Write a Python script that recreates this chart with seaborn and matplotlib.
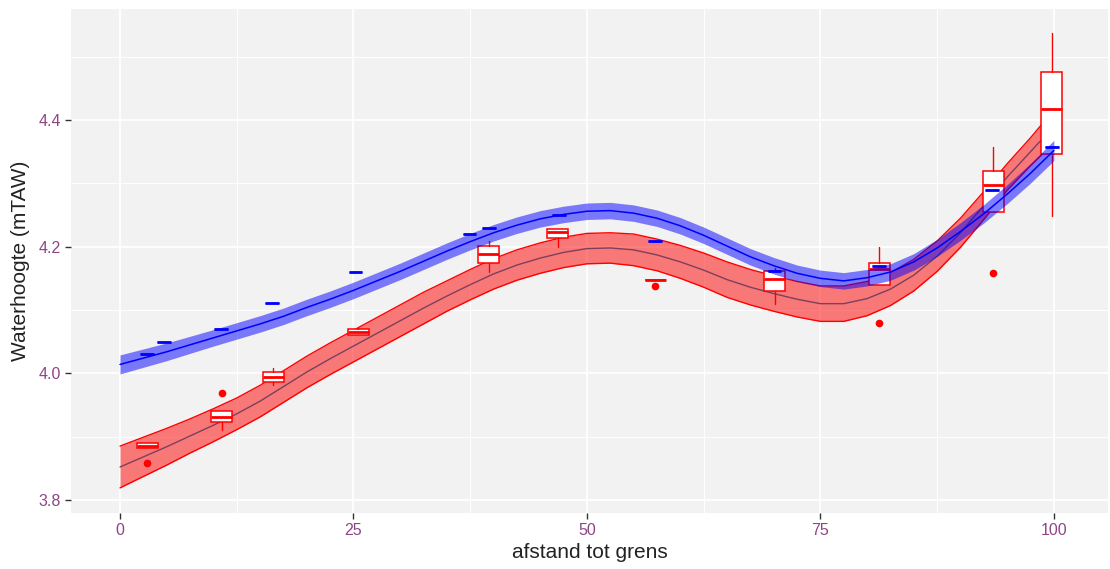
import numpy as np
import pandas as pd
import matplotlib
matplotlib.use("Agg")
import matplotlib.pyplot as plt
import seaborn as sns

# ---------------- data ----------------
# red boxplots (per distance group)
red_x = [2.9, 10.9, 16.4, 25.5, 39.5, 46.9, 57.3, 70.1, 81.3, 93.5, 99.8]
red_wlo = [3.8815, 3.910, 3.981, 4.060, 4.1605, 4.200, 4.1474, 4.109, 4.1395, 4.2548, 4.249]
red_q1 = [3.8815, 3.9226, 3.986, 4.061, 4.1743, 4.2133, 4.1474, 4.130, 4.1395, 4.2548, 4.346]
red_med = [3.8856, 3.9314, 3.9937, 4.066, 4.189, 4.2227, 4.1474, 4.149, 4.164, 4.298, 4.4176]
red_q3 = [3.8894, 3.9404, 4.0015, 4.070, 4.2006, 4.228, 4.1474, 4.1616, 4.1748, 4.320, 4.4765]
red_whi = [3.8894, 3.9404, 4.009, 4.071, 4.2095, 4.228, 4.1474, 4.166, 4.199, 4.3575, 4.537]
red_out_x = [2.9, 10.9, 57.3, 81.3, 93.5]
red_out_y = [3.859, 3.969, 4.1384, 4.079, 4.159]

# blue boxplots (collapsed to single values)
blue_x = [2.9, 4.7, 10.8, 16.3, 25.2, 37.4, 39.5, 47.0, 57.3, 70.1, 81.3, 93.4, 99.8]
blue_y = [4.030, 4.050, 4.070, 4.111, 4.160, 4.220, 4.229, 4.250, 4.209, 4.161, 4.169, 4.289, 4.358]

# smooth fits with confidence bands (read every 2.5 units)
fit_x = [0, 2.5, 5, 7.5, 10, 12.5, 15, 17.5, 20, 22.5, 25, 27.5, 30, 32.5, 35, 37.5, 40,
         42.5, 45, 47.5, 50, 52.5, 55, 57.5, 60, 62.5, 65, 67.5, 70, 72.5, 75, 77.5, 80,
         82.5, 85, 87.5, 90, 92.5, 95, 97.5, 100]
red_fit = [3.852, 3.868, 3.884, 3.901, 3.918, 3.936, 3.956, 3.979, 4.002, 4.023, 4.043,
           4.063, 4.083, 4.103, 4.122, 4.140, 4.157, 4.171, 4.182, 4.191, 4.197, 4.198,
           4.195, 4.187, 4.176, 4.163, 4.148, 4.136, 4.126, 4.117, 4.110, 4.110, 4.118,
           4.133, 4.155, 4.185, 4.222, 4.265, 4.310, 4.350, 4.390]
red_se = [0.033, 0.031, 0.029, 0.027, 0.026, 0.025, 0.025, 0.025, 0.025, 0.025, 0.025,
          0.025, 0.025, 0.025, 0.024, 0.024, 0.024, 0.024, 0.024, 0.024, 0.024, 0.024,
          0.025, 0.025, 0.026, 0.027, 0.028, 0.028, 0.028, 0.028, 0.028, 0.028, 0.027,
          0.026, 0.025, 0.024, 0.023, 0.022, 0.021, 0.022, 0.026]
blue_fit = [4.014, 4.024, 4.034, 4.045, 4.056, 4.067, 4.078, 4.090, 4.104, 4.117, 4.131,
            4.146, 4.161, 4.177, 4.193, 4.208, 4.222, 4.234, 4.244, 4.251, 4.256, 4.257,
            4.253, 4.245, 4.233, 4.218, 4.201, 4.184, 4.170, 4.158, 4.150, 4.146, 4.151,
            4.160, 4.176, 4.198, 4.224, 4.252, 4.283, 4.316, 4.352]
blue_se = [0.015, 0.0145, 0.014, 0.0135, 0.013, 0.013, 0.013, 0.013, 0.013, 0.013, 0.013,
           0.013, 0.013, 0.013, 0.013, 0.013, 0.013, 0.013, 0.013, 0.013, 0.013, 0.013,
           0.013, 0.013, 0.013, 0.013, 0.013, 0.013, 0.013, 0.013, 0.013, 0.013, 0.013,
           0.013, 0.013, 0.0135, 0.014, 0.0145, 0.015, 0.0155, 0.016]

x_ticks = [0, 25, 50, 75, 100]
y_ticks = [3.8, 4.0, 4.2, 4.4]
x_label = "afstand tot grens"
y_label = "Waterhoogte (mTAW)"

# ---------------- figure ----------------
sns.set_theme(style="darkgrid")
plt.rcParams["font.family"] = ["Liberation Sans", "DejaVu Sans"]

fig = plt.figure(figsize=(11.10, 5.69), dpi=100)
ax = fig.add_axes([71 / 1110, 1 - 513 / 569, (1108 - 71) / 1110, (513 - 9) / 569])
ax.set_facecolor("#F2F2F2")

fx = np.array(fit_x, dtype=float)
rf = np.array(red_fit)
rs = np.array(red_se)
bf = np.array(blue_fit)
bs = np.array(blue_se)

# red ribbon
ax.fill_between(fx, rf - rs, rf + rs, color="red", alpha=0.5, lw=0, zorder=2)
ax.plot(fx, rf + rs, color="red", lw=1.0, zorder=2.1)
ax.plot(fx, rf - rs, color="red", lw=1.0, zorder=2.1)
sns.lineplot(x=fx, y=rf, color="#7d3f5c", lw=1.0, ax=ax, zorder=2.2)

# red boxes
red_stats = []
for i in range(len(red_x)):
    fl = [y for xx, y in zip(red_out_x, red_out_y) if xx == red_x[i]]
    red_stats.append(dict(whislo=red_wlo[i], q1=red_q1[i], med=red_med[i], q3=red_q3[i],
                          whishi=red_whi[i], fliers=fl))
ax.bxp(red_stats, positions=red_x, widths=2.25, patch_artist=True, showcaps=False,
       manage_ticks=False,
       boxprops=dict(facecolor="white", edgecolor="red", lw=1.1),
       medianprops=dict(color="red", lw=2.0),
       whiskerprops=dict(color="red", lw=1.0),
       flierprops=dict(marker="o", markerfacecolor="red", markeredgecolor="red",
                       markersize=4.5),
       zorder=3)

# blue ribbon and line
ax.fill_between(fx, bf - bs, bf + bs, color="blue", alpha=0.5, lw=0, zorder=4)
sns.lineplot(x=fx, y=bf, color="blue", lw=1.1, ax=ax, zorder=4.5)

# blue collapsed boxes
blue_stats = [dict(whislo=y, q1=y, med=y, q3=y, whishi=y, fliers=[]) for y in blue_y]
ax.bxp(blue_stats, positions=blue_x, widths=1.45, patch_artist=True, showcaps=False,
       manage_ticks=False,
       boxprops=dict(facecolor="none", edgecolor="blue", lw=1.0),
       medianprops=dict(color="blue", lw=2.0),
       whiskerprops=dict(color="blue", lw=1.0),
       zorder=5)

# axes styling
ax.set_xlim(-5.25, 105.8)
ax.set_ylim(3.7793, 4.5755)
ax.set_xticks(x_ticks)
ax.set_yticks(y_ticks)
ax.set_xticklabels([str(t) for t in x_ticks])
ax.set_yticklabels([f"{t:.1f}" for t in y_ticks])
ax.set_xticks([12.5, 37.5, 62.5, 87.5], minor=True)
ax.set_yticks([3.9, 4.1, 4.3, 4.5], minor=True)
ax.grid(which="major", color="white", lw=1.3)
ax.grid(which="minor", color="white", lw=0.7)
ax.set_axisbelow(True)
for s in ax.spines.values():
    s.set_visible(False)
ax.tick_params(axis="both", which="major", length=4, width=1, color="#333333",
               labelsize=11.5, labelcolor="#8E4585", pad=3, bottom=True, left=True)
ax.tick_params(axis="both", which="minor", length=0)
ax.set_xlabel(x_label, fontsize=15, color="#222222", labelpad=4)
ax.set_ylabel(y_label, fontsize=15, color="#222222", labelpad=6)

fig.savefig("out.png", dpi=100)
